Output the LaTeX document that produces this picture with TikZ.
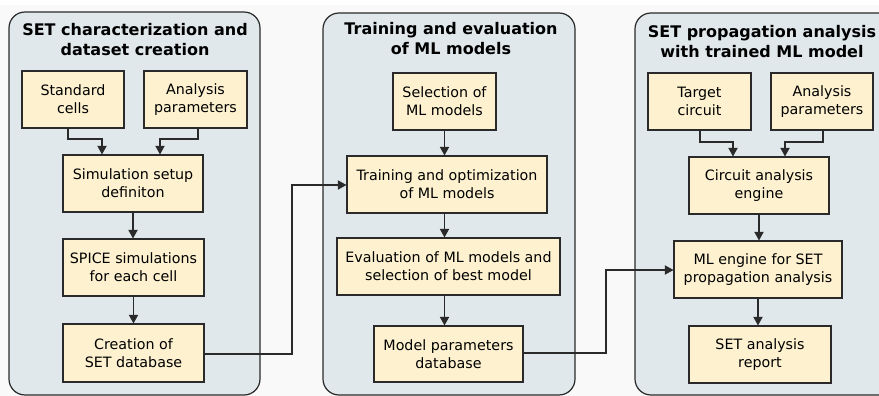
\documentclass[tikz,border=0pt]{standalone}
\usepackage{fontspec}
\setmainfont{DejaVu Sans}
\usetikzlibrary{arrows.meta}
\newdimen\pxu \pxu=0.75pt
\definecolor{panelfill}{HTML}{E0E8EB}
\definecolor{boxfill}{HTML}{FDF1CF}
\definecolor{edge}{HTML}{2A2A2A}
\definecolor{bgc}{HTML}{F9F9F9}
\tikzset{
  panel/.style={draw=edge, line width=1.2\pxu, fill=panelfill, rounded corners=16\pxu},
  boxnode/.style={draw=edge, line width=1.1\pxu, fill=boxfill, align=center, inner sep=0pt,
    font=\fontsize{10.7}{13.5}\selectfont, text=black},
  ttl/.style={align=center, font=\fontsize{12}{15}\selectfont\bfseries, inner sep=0pt},
  arr/.style={draw=edge, line width=1.1\pxu, -{Triangle[width=7pt,length=6.5pt]}},
  ln/.style={draw=edge, line width=1\pxu}
}
\begin{document}
\begin{tikzpicture}[x=0.75pt,y=-0.75pt]
\useasboundingbox (0,0) rectangle (879,396);
\fill[bgc] (0,0) rectangle (879,396);
\fill[white] (0,0) rectangle (879,5);
% panels
\draw[panel] (9,12) rectangle (260,395);
\draw[panel] (323,13) rectangle (575,395);
\draw[panel] (635,13) rectangle (900,395);
% titles
\node[ttl] (t1) at (135,40) {SET characterization and\\dataset creation};
\node[ttl] (t2) at (451,39) {Training and evaluation\\of ML models};
\node[ttl] (t3) at (762,42) {SET propagation analysis\\with trained ML model};
% panel 1
\node[boxnode, minimum width=102\pxu, minimum height=57\pxu] (sc) at (73,99.5) {Standard\\cells};
\node[boxnode, minimum width=103\pxu, minimum height=57\pxu] (apa) at (195.5,99.5) {Analysis\\parameters};
\node[boxnode, minimum width=140\pxu, minimum height=57\pxu] (sim) at (133,183.5) {Simulation setup\\definiton};
\node[boxnode, minimum width=141\pxu, minimum height=57\pxu] (spice) at (133.5,267.5) {SPICE simulations\\for each cell};
\node[boxnode, minimum width=141\pxu, minimum height=58\pxu] (cre) at (133.5,353) {Creation of\\SET database};
% panel 2
\node[boxnode, minimum width=103\pxu, minimum height=57\pxu] (sel) at (444.5,101.5) {Selection of\\ML models};
\node[boxnode, minimum width=200\pxu, minimum height=57\pxu] (train) at (447,184.5) {Training and optimization\\of ML models};
\node[boxnode, minimum width=223\pxu, minimum height=57\pxu] (eval) at (448.5,266.5) {Evaluation of ML models and\\selection of best model};
\node[boxnode, minimum width=149\pxu, minimum height=56\pxu] (mp) at (448.5,354) {Model parameters\\database};
% panel 3
\node[boxnode, minimum width=103\pxu, minimum height=57\pxu] (tc) at (699.5,101.5) {Target\\circuit};
\node[boxnode, minimum width=102\pxu, minimum height=57\pxu] (apb) at (822,101.5) {Analysis\\parameters};
\node[boxnode, minimum width=140\pxu, minimum height=57\pxu] (cae) at (759,185.5) {Circuit analysis\\engine};
\node[boxnode, minimum width=168\pxu, minimum height=57\pxu] (mle) at (758,269.5) {ML engine for SET\\propagation analysis};
\node[boxnode, minimum width=142\pxu, minimum height=57\pxu] (rep) at (760,354.5) {SET analysis\\report};
% coordinates for bends
\coordinate (b1) at (68,139);
\coordinate (b2) at (102,139);
\coordinate (b3) at (198,139);
\coordinate (b4) at (160,139);
\coordinate (b5) at (292,354);
\coordinate (b6) at (292,185);
\coordinate (b7) at (606,353);
\coordinate (b8) at (606,270);
\coordinate (b9) at (700,142);
\coordinate (b10) at (733,142);
\coordinate (b11) at (823,142);
\coordinate (b12) at (785,142);
% connectors panel 1
\draw[arr] (sc.south -| b1) -- (b1) -- (b2) -- (sim.north -| b2);
\draw[arr] (apa.south -| b3) -- (b3) -- (b4) -- (sim.north -| b4);
\draw[arr] (sim.south) -- (spice.north -| sim.south);
\draw[arr] (spice.south) -- (cre.north -| spice.south);
\draw[arr] (cre.east |- b5) -- (b5) -- (b6) -- (train.west |- b6);
% panel 2
\draw[arr] (sel.south) -- (train.north -| sel.south);
\draw[arr] (train.south -| sel.south) -- (eval.north -| sel.south);
\draw[arr] (eval.south -| sel.south) -- (mp.north -| sel.south);
\draw[arr] (mp.east |- b7) -- (b7) -- (b8) -- (mle.west |- b8);
% panel 3
\draw[arr] (tc.south -| b9) -- (b9) -- (b10) -- (cae.north -| b10);
\draw[arr] (apb.south -| b11) -- (b11) -- (b12) -- (cae.north -| b12);
\draw[arr] (cae.south) -- (mle.north -| cae.south);
\draw[arr] (mle.south) -- (rep.north -| mle.south);
\end{tikzpicture}
\end{document}
